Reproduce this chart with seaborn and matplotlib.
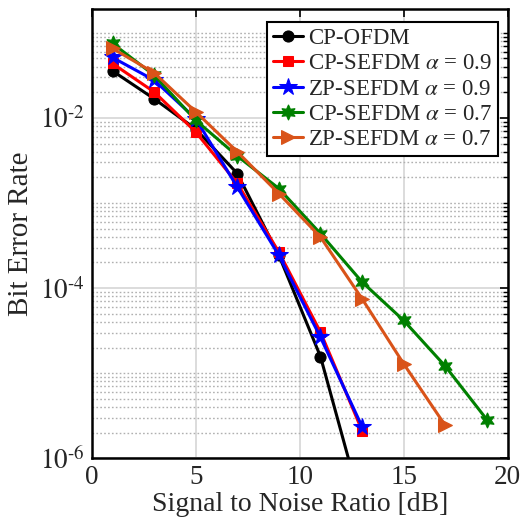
import numpy as np
import pandas as pd
import matplotlib
matplotlib.use("Agg")
import matplotlib.pyplot as plt
import seaborn as sns
from matplotlib.ticker import LogLocator, FixedLocator, NullFormatter

snr_cp_ofdm = [1, 3, 5, 7, 9, 11, 13]
ber_cp_ofdm = [0.0357, 0.0168, 0.0074, 0.00222, 2.43e-4, 1.57e-5, 2.6e-7]

snr_cp_09 = [1, 3, 5, 7, 9, 11, 13]
ber_cp_09 = [0.0436, 0.0202, 0.00685, 0.0017, 2.65e-4, 3.04e-5, 2.12e-6]

snr_zp_09 = [1, 3, 5, 7, 9, 11, 13]
ber_zp_09 = [0.0513, 0.0278, 0.0098, 0.00154, 2.43e-4, 2.65e-5, 2.36e-6]

snr_cp_07 = [1, 3, 5, 7, 9, 11, 13, 15, 17, 19]
ber_cp_07 = [0.075, 0.0318, 0.0094, 0.00357, 0.00148, 4.37e-4, 1.18e-4, 4.17e-5, 1.21e-5, 2.85e-6]

snr_zp_07 = [1, 3, 5, 7, 9, 11, 13, 15, 17]
ber_zp_07 = [0.0656, 0.0339, 0.0118, 0.0040, 0.00129, 3.98e-4, 7.5e-5, 1.29e-5, 2.43e-6]

names = ["CP-OFDM", r"CP-SEFDM $\alpha$ = 0.9", r"ZP-SEFDM $\alpha$ = 0.9",
         r"CP-SEFDM $\alpha$ = 0.7", r"ZP-SEFDM $\alpha$ = 0.7"]
xs = [snr_cp_ofdm, snr_cp_09, snr_zp_09, snr_cp_07, snr_zp_07]
ys = [ber_cp_ofdm, ber_cp_09, ber_zp_09, ber_cp_07, ber_zp_07]
yticklabels = [r"$10^{\text{-}6}$", r"$10^{\text{-}4}$", r"$10^{\text{-}2}$"]

colors = ["#000000", "#FF0000", "#0000FF", "#008000", "#D95319"]
markers = ["o", "s", "*", (6, 1, 0), ">"]
msizes = [8, 7, 13, 11, 10]

rows = []
for n, x, y in zip(names, xs, ys):
    for a, b in zip(x, y):
        rows.append({"SNR": a, "BER": b, "Scheme": n})
df = pd.DataFrame(rows)

sns.set_style("white")
plt.rcParams["font.family"] = ["Liberation Serif", "DejaVu Serif"]
plt.rcParams["mathtext.fontset"] = "stix"

fig = plt.figure(figsize=(5.31, 5.26), dpi=100)
ax = fig.add_axes([0.1727, 0.1287, 0.7833, 0.8551])

for n, c, m, ms in zip(names, colors, markers, msizes):
    sub = df[df["Scheme"] == n]
    sns.lineplot(data=sub, x="SNR", y="BER", ax=ax, color=c, marker=m,
                 markersize=ms, markeredgecolor=c, markerfacecolor=c,
                 linewidth=2.2, label=n, zorder=3)

ax.set_yscale("log")
ax.set_xlim(0, 20)
ax.set_ylim(1e-6, 0.193)
ax.set_xticks([0, 5, 10, 15, 20])
ax.yaxis.set_major_locator(FixedLocator([1e-6, 1e-4, 1e-2]))
ax.set_yticklabels(yticklabels)
ax.yaxis.set_minor_locator(LogLocator(base=10, subs=np.arange(1, 10), numticks=20))
ax.yaxis.set_minor_formatter(NullFormatter())

ax.grid(True, which="major", color="#d9d9d9", linewidth=1.3, linestyle="-", zorder=0)
ax.grid(True, which="minor", axis="y", color="#b0b0b0", linewidth=1.0,
        linestyle=(0, (1.2, 1.6)), zorder=0)
ax.set_axisbelow(True)

ax.tick_params(which="both", direction="in", top=True, right=True,
               labelsize=19.5, color="black")
ax.tick_params(which="major", length=6, width=1.2, pad=5)
ax.tick_params(which="minor", length=3.5, width=1.0)
for s in ax.spines.values():
    s.set_linewidth(1.8)
    s.set_color("black")

ax.set_xlabel("Signal to Noise Ratio [dB]", fontsize=20, labelpad=1)
ax.set_ylabel("Bit Error Rate", fontsize=21, labelpad=4)

leg = ax.legend(loc="upper right", bbox_to_anchor=(0.978, 0.969),
                fontsize=16.5, frameon=True, fancybox=False,
                edgecolor="black", framealpha=1, handlelength=1.3,
                handletextpad=0.25, borderpad=0.25, labelspacing=0.18,
                borderaxespad=0.0)
leg.get_frame().set_linewidth(1.5)

fig.savefig("out.png", dpi=100)
